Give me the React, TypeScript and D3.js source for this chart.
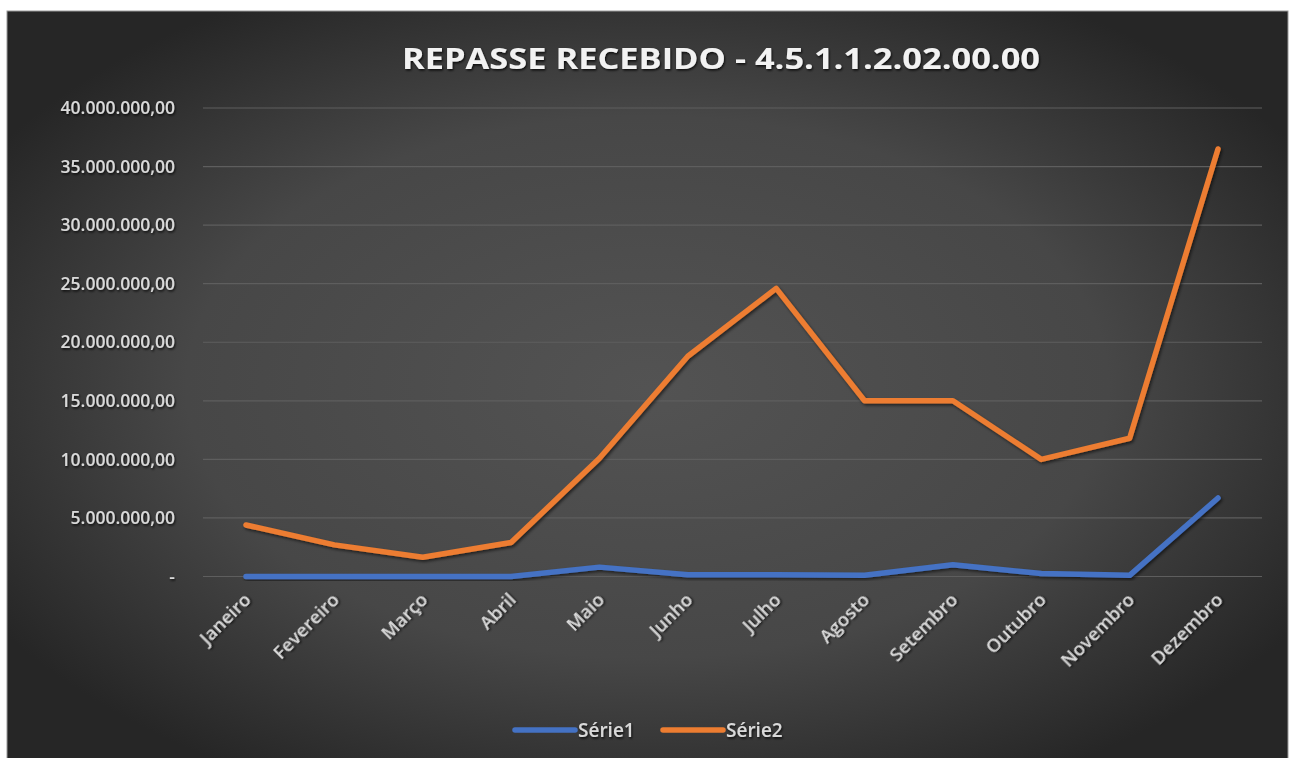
import React from "react";
import * as d3 from "d3";

const months = ["Janeiro","Fevereiro","Março","Abril","Maio","Junho","Julho","Agosto","Setembro","Outubro","Novembro","Dezembro"];
const serie1 = [0, 0, 0, 0, 800000, 150000, 150000, 100000, 1000000, 250000, 100000, 6700000];
const serie2 = [4400000, 2700000, 1650000, 2900000, 10100000, 18800000, 24600000, 15000000, 15000000, 10000000, 11800000, 36500000];
const yTicks = [0, 5000000, 10000000, 15000000, 20000000, 25000000, 30000000, 35000000, 40000000];
const seriesNames = ["Série1", "Série2"];
const seriesColors = ["#4472C4", "#ED7D31"];
const title = "REPASSE RECEBIDO - 4.5.1.1.2.02.00.00";

const W = 1289, H = 758;
const FONT = "'Open Sans', sans-serif";

export default function App() {
  const x = d3.scalePoint<string>().domain(months).range([246, 1218]);
  const y = d3.scaleLinear().domain([0, 40000000]).range([576.5, 108]);
  const loc = d3.formatLocale({ decimal: ",", thousands: ".", grouping: [3], currency: ["", ""] });
  const fmt = loc.format(",.2f");
  const tickLabel = (v: number) => (v === 0 ? "-" : fmt(v));
  const line = d3.line<number>().x((_, i) => x(months[i]) as number).y((d) => y(d)).curve(d3.curveLinear);
  const data = [serie1, serie2];

  return (
    <div style={{ position: "absolute", left: 0, top: 0 }}>
      <svg width={W} height={H} style={{ display: "block" }}>
        <defs>
          <radialGradient id="bg" cx="50%" cy="50%" r="60%">
            <stop offset="0%" stopColor="#535353" />
            <stop offset="60%" stopColor="#474747" />
            <stop offset="100%" stopColor="#262626" />
          </radialGradient>
          <filter id="lshadow" x="-5%" y="-5%" width="110%" height="110%">
            <feDropShadow dx="1.5" dy="2" stdDeviation="1.5" floodColor="#000" floodOpacity="0.55" />
          </filter>
          <filter id="tshadow" x="-5%" y="-20%" width="110%" height="140%">
            <feDropShadow dx="1" dy="1.5" stdDeviation="1" floodColor="#000" floodOpacity="0.8" />
          </filter>
        </defs>
        <rect x={0} y={0} width={W} height={H} fill="#ffffff" />
        <rect x={7} y={11} width={1281} height={H - 11 + 5} fill="url(#bg)" stroke="#9a9a9a" strokeWidth={1} />
        <text x={721} y={69} textAnchor="middle" fill="#f2f2f2" fontFamily={FONT} fontWeight={700} fontSize={28}
          textLength={638} lengthAdjust="spacingAndGlyphs" filter="url(#tshadow)">{title}</text>
        {yTicks.map((t) => (
          <g key={t}>
            <line x1={203} x2={1262} y1={y(t)} y2={y(t)} stroke="#5e5e5e" strokeWidth={1.2} />
            <text x={175} y={y(t)} dy="0.35em" textAnchor="end" fill="#d9d9d9" fontFamily={FONT} fontWeight={600} fontSize={17.5}
              filter="url(#tshadow)">{tickLabel(t)}</text>
          </g>
        ))}
        {data.map((s, i) => (
          <path key={i} d={line(s) || ""} fill="none" stroke={seriesColors[i]} strokeWidth={5.5}
            strokeLinejoin="round" strokeLinecap="round" filter="url(#lshadow)" />
        ))}
        {months.map((m) => {
          const px = (x(m) as number) + 6;
          const py = 601;
          return (
            <text key={m} x={px} y={py} textAnchor="end" transform={`rotate(-45 ${px} ${py})`} fill="#d9d9d9"
              fontFamily={FONT} fontWeight={600} fontSize={18.5} filter="url(#tshadow)">{m}</text>
          );
        })}
        {seriesNames.map((n, i) => {
          const lx = 515 + i * 148;
          return (
            <g key={n}>
              <line x1={lx} x2={lx + 60} y1={730} y2={730} stroke={seriesColors[i]} strokeWidth={5.5} strokeLinecap="round" />
              <text x={lx + 63} y={730} dy="0.35em" fill="#d9d9d9" fontFamily={FONT} fontWeight={600} fontSize={19} filter="url(#tshadow)">{n}</text>
            </g>
          );
        })}
      </svg>
    </div>
  );
}
